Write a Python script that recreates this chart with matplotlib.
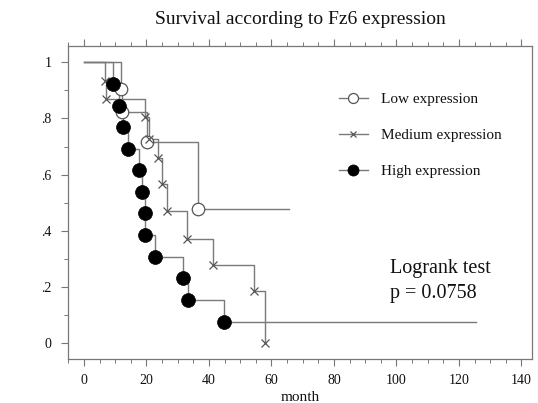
import matplotlib
matplotlib.use("Agg")
import matplotlib.pyplot as plt
from matplotlib.ticker import MultipleLocator, FixedLocator, FuncFormatter

plt.rcParams['font.family'] = ['Liberation Serif', 'DejaVu Serif']

# Data (event times in months, survival proportion)
low_times = [12.0, 12.3, 20.3, 36.4]
low_surv = [0.905, 0.822, 0.717, 0.478]
low_end = 65.6

med_times = [6.6, 7.2, 19.5, 20.8, 23.6, 24.9, 26.7, 33.0, 41.4, 54.5, 58.1]
med_surv = [0.933, 0.868, 0.806, 0.726, 0.658, 0.567, 0.470, 0.370, 0.279, 0.186, 0.0]
med_end = 58.1

high_times = [9.4, 11.3, 12.4, 14.1, 17.6, 18.7, 19.4, 19.5, 22.9, 31.8, 33.3, 44.8]
high_surv = [0.923, 0.846, 0.769, 0.692, 0.615, 0.538, 0.462, 0.385, 0.308, 0.231, 0.154, 0.077]
high_end = 125.4

labels = ["Low expression", "Medium expression", "High expression"]
x_ticks = [0, 20, 40, 60, 80, 100, 120, 140]
y_ticks = [0, 0.2, 0.4, 0.6, 0.8, 1.0]
y_tick_labels = ["0", ".2", ".4", ".6", ".8", "1"]

fig = plt.figure(figsize=(5.38, 4.03), dpi=100)
ax = fig.add_axes([68/538, 1 - 359/403, 464/538, 313/403])

line_col = "#7a7a7a"
txt_col = "#111111"

def km(times, surv, end):
    xs = [0] + list(times) + [end]
    ys = [1.0] + list(surv) + [surv[-1]]
    return xs, ys

series = [
    (low_times, low_surv, low_end, dict(marker='o', markersize=9, markerfacecolor='white',
                                        markeredgecolor='#555555', markeredgewidth=0.9)),
    (med_times, med_surv, med_end, dict(marker='x', markersize=6, markeredgecolor='#555555',
                                        markeredgewidth=0.9)),
    (high_times, high_surv, high_end, dict(marker='o', markersize=10, markerfacecolor='black',
                                           markeredgecolor='black', markeredgewidth=0.5)),
]

handles = []
for (t, s, e, mk), lab in zip(series, labels):
    xs, ys = km(t, s, e)
    ax.step(xs, ys, where='post', color=line_col, linewidth=1.0, zorder=2)
    ax.plot(t, s, linestyle='none', zorder=3, **mk)
    h, = ax.plot([], [], color=line_col, linewidth=1.0, label=lab,
                 **{k: (v * 0.8 if k == 'markersize' else v) for k, v in mk.items()})
    handles.append(h)

leg = ax.legend(handles=handles, loc='upper left', bbox_to_anchor=(0.57, 0.87),
                frameon=False, fontsize=11, handlelength=1.9, handletextpad=0.9,
                labelspacing=1.45, borderaxespad=0)
for t in leg.get_texts():
    t.set_color(txt_col)

ax.text(0.695, 0.25, "Logrank test\np = 0.0758", transform=ax.transAxes,
        fontsize=14.5, ha='left', va='center', linespacing=1.4, color=txt_col)

ax.set_xlim(-5.1, 143.4)
ax.set_ylim(-0.056, 1.058)

ax.xaxis.set_major_locator(FixedLocator(x_ticks))
ax.xaxis.set_minor_locator(MultipleLocator(5))
ax.yaxis.set_major_locator(FixedLocator(y_ticks))
ax.yaxis.set_major_formatter(FuncFormatter(lambda v, p: y_tick_labels[y_ticks.index(round(v, 1))]
                                           if round(v, 1) in y_ticks else ""))
ax.yaxis.set_minor_locator(MultipleLocator(0.1))

ax.tick_params(axis='x', which='both', direction='out', top=True, bottom=True,
               labeltop=False, color='#777777', labelsize=10, labelcolor=txt_col, pad=6)
ax.tick_params(axis='x', which='major', length=5, width=0.8)
ax.tick_params(axis='x', which='minor', length=3, width=0.7)
ax.tick_params(axis='y', which='both', direction='out', left=True, right=False,
               color='#777777', labelsize=10, labelcolor=txt_col, pad=7)
ax.tick_params(axis='y', which='major', length=5, width=0.8)
ax.tick_params(axis='y', which='minor', length=3, width=0.7)

for sp in ax.spines.values():
    sp.set_color('#777777')
    sp.set_linewidth(0.9)

ax.set_xlabel("month", fontsize=11, labelpad=3, color=txt_col)
fig.text(300/538, 1 - 20/403, "Survival according to Fz6 expression",
         ha='center', va='center', fontsize=14, color=txt_col)

fig.savefig("out.png", dpi=100)
